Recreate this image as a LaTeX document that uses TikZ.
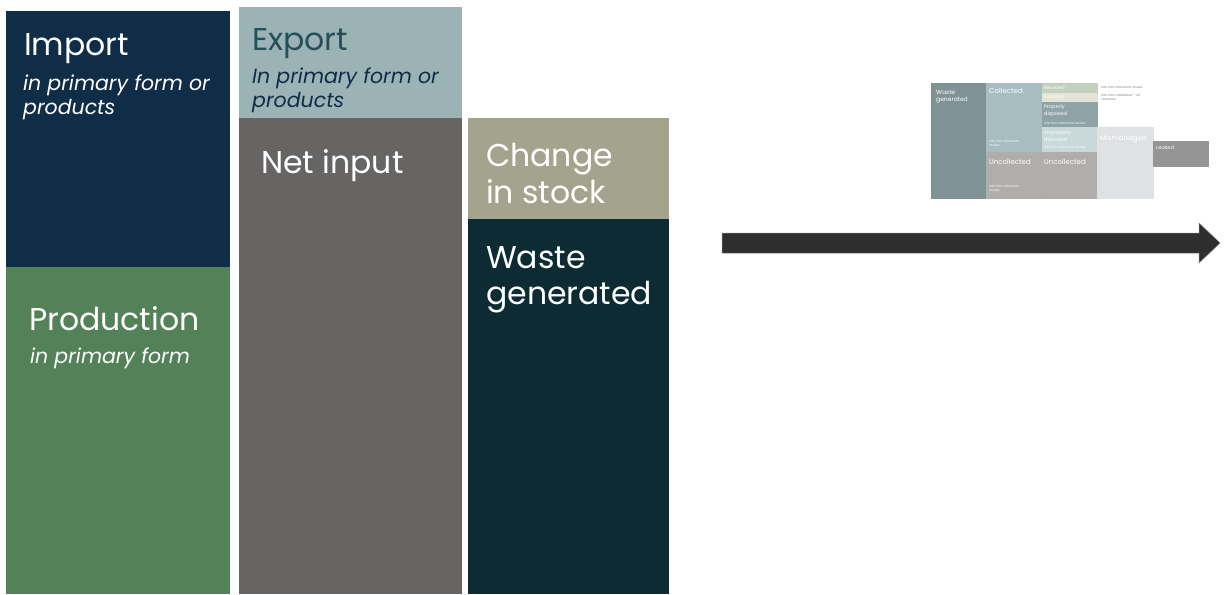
\documentclass[tikz,border=0pt]{standalone}
\usepackage{fontspec}
\setmainfont{Poppins}
\usetikzlibrary{positioning}

\definecolor{importblue}{HTML}{0F2D47}
\definecolor{prodgreen}{HTML}{538158}
\definecolor{exportteal}{HTML}{9BB3B4}
\definecolor{exporttext}{HTML}{24505A}
\definecolor{netgrey}{HTML}{666564}
\definecolor{stockkhaki}{HTML}{A4A38D}
\definecolor{wastedark}{HTML}{0C2B33}
\definecolor{arrowgrey}{HTML}{2E2E2E}
% colours of the small overview chart
\definecolor{mwaste}{HTML}{7F9295}
\definecolor{mcollect}{HTML}{A8BDC0}
\definecolor{muncollect}{HTML}{B0AEAC}
\definecolor{mrecycle}{HTML}{C2D1BE}
\definecolor{mexport}{HTML}{E4E4D6}
\definecolor{mproper}{HTML}{8EA4A7}
\definecolor{mimproper}{HTML}{C9D9DA}
\definecolor{mmisman}{HTML}{DEE2E3}
\definecolor{mleak}{HTML}{959595}

\begin{document}
\begin{tikzpicture}[x=1pt, y=-1pt, line join=round,
    title/.style={anchor=north west, inner sep=0pt, text=white, align=left,
      font=\fontsize{31.5}{36.5}\selectfont},
    sub/.style={anchor=north west, inner sep=0pt, text=white, align=left,
      font=\fontsize{20.5}{23.5}\selectfont\itshape},
    mini/.style={anchor=north west, inner sep=0pt, text=white, align=left,
      font=\fontsize{6}{7}\selectfont},
    note/.style={anchor=north west, inner sep=0pt, align=left,
      font=\fontsize{3.2}{4}\selectfont\itshape}]
  \useasboundingbox (0,0) rectangle (1225,594);

  % column 1: sources
  \fill[importblue] (6,11) rectangle (230,267);
  \fill[prodgreen] (6,267) rectangle (230,594);
  \node[title] (import) at (24,33) {Import};
  \node[sub] (importsub) at (23,75) {in primary form or\\products};
  \node[title] (production) at (29,306) {Production};
  \node[sub] (productionsub) at (30,348) {in primary form};

  % column 2: net input
  \fill[exportteal] (239,7) rectangle (462,118);
  \fill[netgrey] (239,118) rectangle (462,594);
  \node[title, text=exporttext] (export) at (252,28) {Export};
  \node[sub, text=importblue] (exportsub) at (252,68) {In primary form or\\products};
  \node[title] (netinput) at (261,149) {Net input};

  % column 3: stock and waste
  \fill[stockkhaki] (468,118) rectangle (669,219);
  \fill[wastedark] (468,219) rectangle (669,594);
  \node[title] (stock) at (486,143) {Change\\in stock};
  \node[title] (waste) at (486,246) {Waste\\generated};

  % block arrow
  \fill[arrowgrey, draw=gray, line width=0.5pt]
    (722,233) -- (1199,233) -- (1199,223) -- (1220,243)
    -- (1199,263) -- (1199,253) -- (722,253) -- cycle;

  % small overview chart
  \begin{scope}[every path/.style={draw=white, line width=0.6pt}]
    \fill[mwaste] (931,83) rectangle (986,198);
    \fill[mcollect] (986,83) rectangle (1042,152.5);
    \fill[muncollect] (986,152.5) rectangle (1042,198);
    \fill[mrecycle] (1042,83) rectangle (1097,93);
    \fill[mexport] (1042,93) rectangle (1097,102.5);
    \fill[mproper] (1042,102.5) rectangle (1097,127);
    \fill[mimproper] (1042,127) rectangle (1097,152.5);
    \fill[muncollect] (1042,152.5) rectangle (1097,198);
    \fill[mmisman] (1097,127) rectangle (1153,198);
    \fill[mleak] (1153,141) rectangle (1208,166);
  \end{scope}
  \node[mini] (mwastetxt) at (936,90) {Waste\\generated};
  \node[mini, font=\fontsize{7}{8}\selectfont] (mcollecttxt) at (989,88) {Collected};
  \node[note, text=white] (mcollectnote) at (989,140) {Info from literature\\review};
  \node[mini, font=\fontsize{7}{8}\selectfont] (muncollecttxt) at (989,159) {Uncollected};
  \node[note, text=white] (muncollectnote) at (989,185) {Info from literature\\review};
  \node[mini, font=\fontsize{4.5}{5}\selectfont] (mrecycletxt) at (1044,85.5) {Recycled};
  \node[mini, font=\fontsize{4.5}{5}\selectfont] (mexporttxt) at (1044,95) {Exported};
  \node[mini, font=\fontsize{5}{6.5}\selectfont] (mpropertxt) at (1044,105) {Properly\\disposed};
  \node[note, text=white] (mpropernote) at (1044,122) {Info from literature review};
  \node[mini, font=\fontsize{5}{6.5}\selectfont] (mimpropertxt) at (1044,131) {Improperly\\disposed};
  \node[note, text=white] (mimpropernote) at (1044,146) {Info from literature review};
  \node[mini, font=\fontsize{7}{8}\selectfont] (muncollect2txt) at (1044,159) {Uncollected};
  \node[mini, font=\fontsize{7}{8}\selectfont] (mmismantxt) at (1100,135) {Mismanaged};
  \node[mini, font=\fontsize{5}{6}\selectfont] (mleaktxt) at (1156,146) {Leaked};
  \node[note, text=gray] (litnote) at (1101,86) {Info from literature review};
  \node[note, text=gray] (dbnote) at (1101,94) {Info from database -- all\\countries};
\end{tikzpicture}
\end{document}
